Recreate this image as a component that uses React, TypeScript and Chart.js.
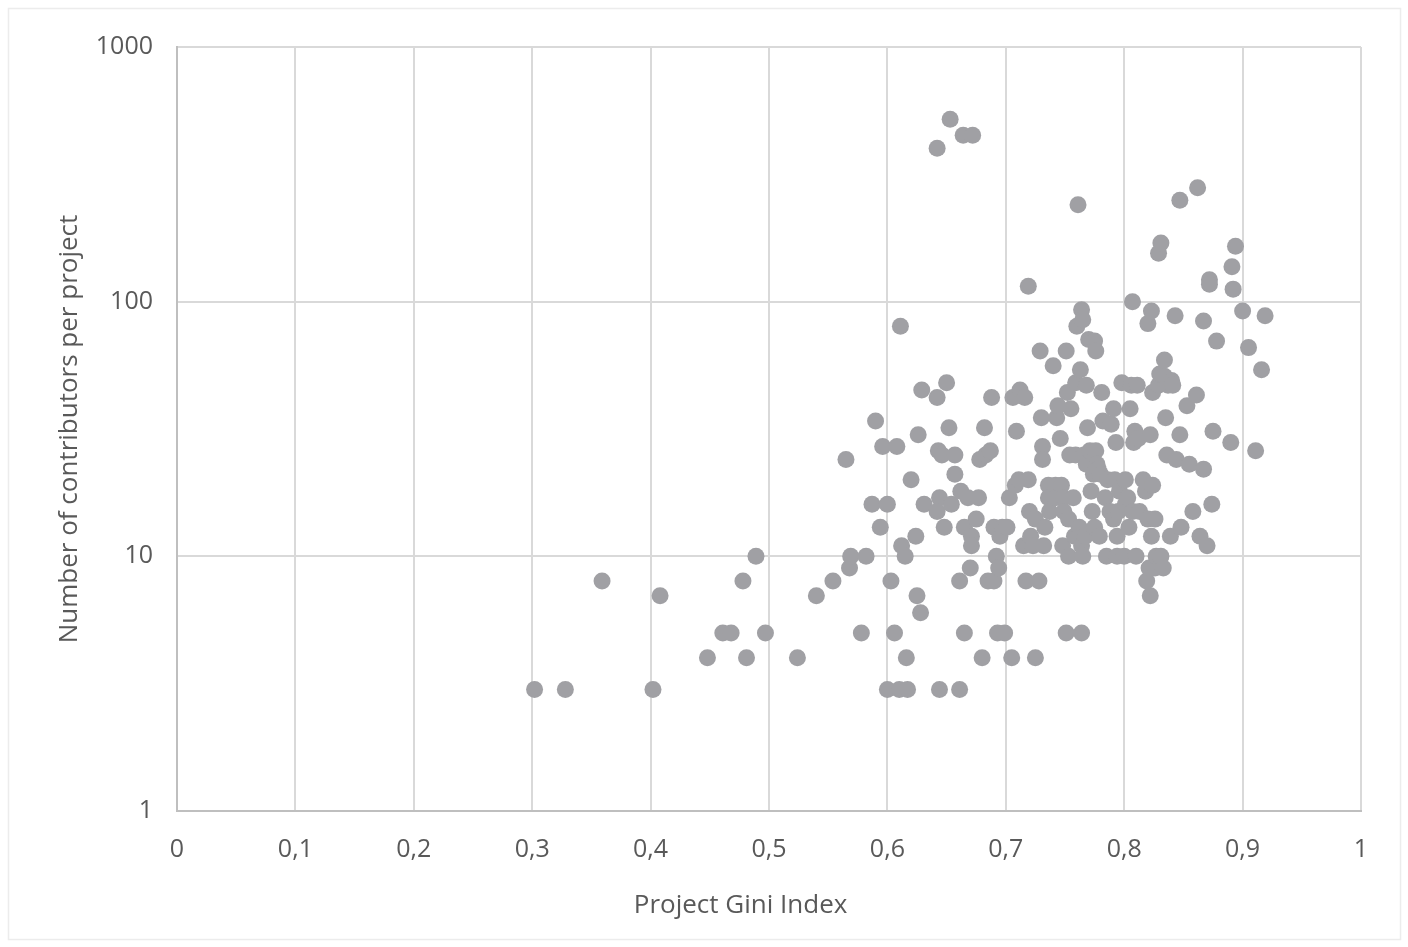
import React, { useEffect, useRef } from 'react';
import { Chart, registerables } from 'chart.js';

Chart.register(...registerables);

const giniIndex = [
  0.302, 0.328, 0.359, 0.402, 0.408, 0.448, 0.461, 0.468, 0.478, 0.481,
  0.489, 0.497, 0.524, 0.540, 0.554, 0.565, 0.568, 0.569, 0.578, 0.582,
  0.587, 0.590, 0.594, 0.596, 0.600, 0.600, 0.603, 0.606, 0.608, 0.610,
  0.611, 0.612, 0.615, 0.616, 0.617, 0.620, 0.624, 0.625, 0.626, 0.628,
  0.629, 0.631, 0.642, 0.642, 0.643, 0.644, 0.644, 0.642, 0.646, 0.648,
  0.650, 0.652, 0.653, 0.654, 0.657, 0.657, 0.661, 0.661, 0.662, 0.664,
  0.665, 0.665, 0.668, 0.670, 0.671, 0.671, 0.672, 0.675, 0.677, 0.678,
  0.680, 0.682, 0.683, 0.685, 0.687, 0.688, 0.690, 0.690, 0.692, 0.693,
  0.694, 0.695, 0.697, 0.699, 0.701, 0.703, 0.705, 0.706, 0.708, 0.709,
  0.711, 0.712, 0.715, 0.716, 0.717, 0.719, 0.719, 0.720, 0.721, 0.723,
  0.725, 0.725, 0.728, 0.729, 0.730, 0.731, 0.731, 0.732, 0.733, 0.736,
  0.736, 0.737, 0.740, 0.742, 0.742, 0.743, 0.744, 0.746, 0.747, 0.748,
  0.749, 0.749, 0.751, 0.751, 0.752, 0.753, 0.753, 0.754, 0.755, 0.757,
  0.758, 0.759, 0.759, 0.760, 0.761, 0.762, 0.763, 0.764, 0.764, 0.764,
  0.765, 0.765, 0.766, 0.767, 0.768, 0.768, 0.769, 0.770, 0.771, 0.772,
  0.773, 0.774, 0.775, 0.775, 0.776, 0.776, 0.777, 0.778, 0.779, 0.780,
  0.781, 0.782, 0.784, 0.785, 0.786, 0.788, 0.789, 0.791, 0.791, 0.792,
  0.793, 0.794, 0.794, 0.795, 0.796, 0.798, 0.800, 0.801, 0.801, 0.803,
  0.804, 0.805, 0.806, 0.807, 0.807, 0.808, 0.809, 0.810, 0.811, 0.812,
  0.813, 0.816, 0.818, 0.819, 0.820, 0.820, 0.821, 0.822, 0.822, 0.823,
  0.823, 0.824, 0.824, 0.826, 0.826, 0.827, 0.829, 0.829, 0.830, 0.831,
  0.831, 0.833, 0.834, 0.834, 0.835, 0.836, 0.837, 0.839, 0.840, 0.841,
  0.843, 0.844, 0.847, 0.847, 0.848, 0.853, 0.855, 0.858, 0.861, 0.862,
  0.864, 0.867, 0.867, 0.870, 0.872, 0.872, 0.874, 0.875, 0.878, 0.890,
  0.891, 0.892, 0.894, 0.900, 0.905, 0.911, 0.916, 0.919,
];

const contributors = [
  3, 3, 8, 3, 7, 4, 5, 5, 8, 4,
  10, 5, 4, 7, 8, 24, 9, 10, 5, 10,
  16, 34, 13, 27, 16, 3, 8, 5, 27, 3,
  80, 11, 10, 4, 3, 20, 12, 7, 30, 6,
  45, 16, 42, 400, 26, 3, 17, 15, 25, 13,
  48, 32, 520, 16, 21, 25, 8, 3, 18, 450,
  5, 13, 17, 9, 12, 11, 450, 14, 17, 24,
  4, 32, 25, 8, 26, 42, 13, 8, 10, 5,
  9, 12, 13, 5, 13, 17, 4, 42, 19, 31,
  20, 45, 11, 42, 8, 115, 20, 15, 12, 11,
  4, 14, 8, 64, 35, 27, 24, 11, 13, 19,
  17, 15, 56, 19, 17, 35, 39, 29, 19, 11,
  17, 15, 64, 5, 44, 14, 10, 25, 38, 17,
  12, 48, 25, 80, 240, 13, 54, 11, 5, 93,
  10, 85, 25, 12, 23, 47, 32, 71, 26, 18,
  15, 21, 13, 70, 64, 26, 23, 22, 12, 21,
  44, 34, 17, 10, 20, 15, 33, 38, 14, 20,
  28, 12, 10, 15, 18, 48, 10, 20, 16, 17,
  13, 38, 47, 15, 100, 28, 31, 10, 47, 29,
  15, 20, 18, 8, 82, 14, 9, 7, 30, 92,
  12, 19, 44, 9, 14, 10, 155, 47, 52, 170,
  10, 9, 59, 51, 35, 25, 47, 12, 49, 47,
  88, 24, 250, 30, 13, 39, 23, 15, 43, 280,
  12, 84, 22, 11, 122, 117, 16, 31, 70, 28,
  137, 112, 165, 92, 66, 26, 54, 88,
];

const xTickValues = [0, 0.1, 0.2, 0.3, 0.4, 0.5, 0.6, 0.7, 0.8, 0.9, 1];
const yTickValues = [1, 10, 100, 1000];

const xTitle = 'Project Gini Index';
const yTitle = 'Number of contributors per project';

const textColor = '#595959';
const fontFamily = '"Open Sans", sans-serif';
const tickFont = { family: fontFamily, size: 25 };

const backgroundPlugin = {
  id: 'bgFrame',
  beforeDraw(chart: any) {
    const { ctx, width, height } = chart;
    ctx.save();
    ctx.fillStyle = '#ffffff';
    ctx.fillRect(0, 0, width, height);
    ctx.strokeStyle = '#ececec';
    ctx.lineWidth = 1.5;
    ctx.strokeRect(8.5, 8.5, width - 16, height - 16);
    ctx.restore();
  },
};

const axisTitlePlugin = {
  id: 'axisTitles',
  afterDraw(chart: any) {
    const { ctx, chartArea } = chart;
    ctx.save();
    ctx.fillStyle = textColor;
    ctx.font = `26px ${fontFamily}`;
    ctx.textAlign = 'center';
    ctx.textBaseline = 'middle';
    ctx.fillText(xTitle, chartArea.left + (chartArea.right - chartArea.left) * 0.476, 906);
    ctx.translate(70, (chartArea.top + chartArea.bottom) / 2);
    ctx.rotate(-Math.PI / 2);
    ctx.fillText(yTitle, 0, 0);
    ctx.restore();
  },
};

export default function App() {
  const ref = useRef<HTMLCanvasElement>(null);

  useEffect(() => {
    document.body.style.margin = '0';
    const points = giniIndex.map((x, i) => ({ x, y: contributors[i] }));
    const chart = new Chart(ref.current as HTMLCanvasElement, {
      type: 'scatter',
      data: {
        datasets: [
          {
            data: points,
            backgroundColor: '#a0a0a4',
            borderColor: '#a0a0a4',
            borderWidth: 0,
            pointRadius: 8.5,
            pointHoverRadius: 8.5,
          },
        ],
      },
      options: {
        animation: false,
        responsive: false,
        maintainAspectRatio: false,
        layout: { padding: { left: 0, right: 47, top: 47, bottom: 0 } },
        plugins: {
          legend: { display: false },
          tooltip: { enabled: false },
        },
        scales: {
          x: {
            type: 'linear',
            min: 0,
            max: 1,
            afterBuildTicks: (s: any) => {
              s.ticks = xTickValues.map((v) => ({ value: v }));
            },
            afterFit: (s: any) => {
              s.height = 136;
            },
            ticks: {
              color: textColor,
              font: tickFont,
              padding: 24,
              callback: (v: any) => {
                const n = Number(v);
                if (n === 0 || n === 1) return String(n);
                return n.toFixed(1).replace('.', ',');
              },
            },
            grid: { color: '#d9d9d9', lineWidth: 2, drawTicks: false },
            border: { color: '#bfbfbf', width: 2 },
          },
          y: {
            type: 'logarithmic',
            min: 1,
            max: 1000,
            afterBuildTicks: (s: any) => {
              s.ticks = yTickValues.map((v) => ({ value: v }));
            },
            afterFit: (s: any) => {
              s.width = 177;
            },
            ticks: {
              color: textColor,
              font: tickFont,
              padding: 24,
              callback: (v: any) => String(Number(v)),
            },
            grid: { color: '#d9d9d9', lineWidth: 2, drawTicks: false },
            border: { color: '#bfbfbf', width: 2 },
          },
        },
      },
      plugins: [backgroundPlugin, axisTitlePlugin],
    });
    return () => chart.destroy();
  }, []);

  return (
    <div style={{ width: 1408, height: 947 }}>
      <canvas ref={ref} width={1408} height={947} style={{ display: 'block', width: 1408, height: 947 }} />
    </div>
  );
}
